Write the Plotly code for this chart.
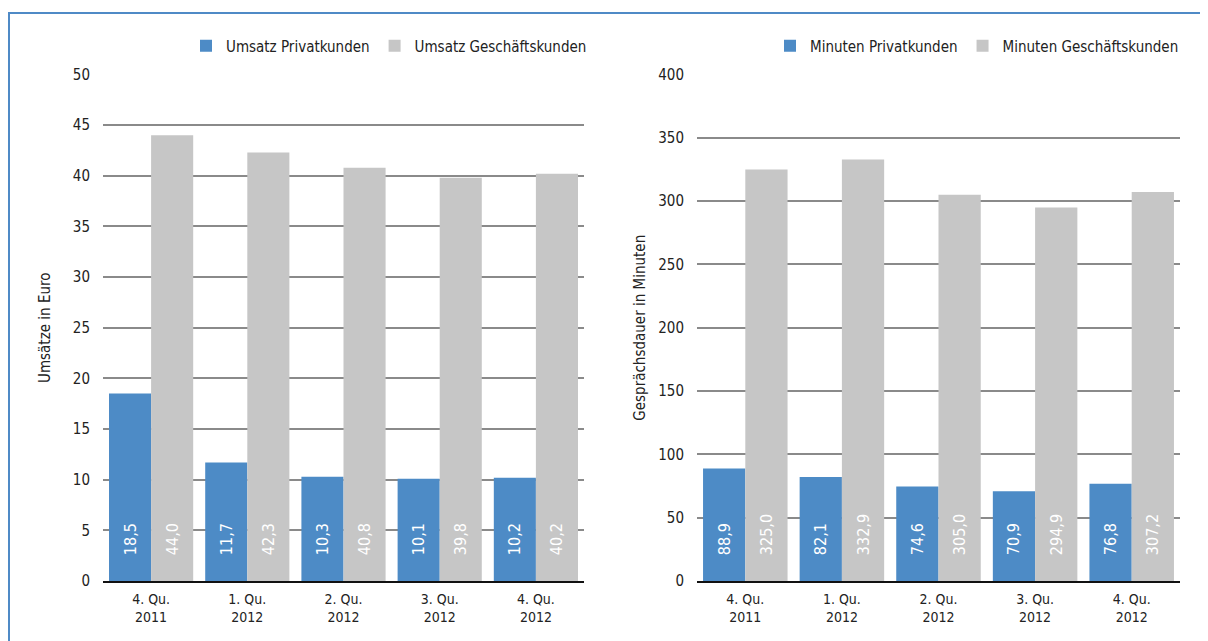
import plotly.graph_objects as go

categories = ["4. Qu.<br>2011", "1. Qu.<br>2012", "2. Qu.<br>2012", "3. Qu.<br>2012", "4. Qu.<br>2012"]
umsatz_privat = [18.5, 11.7, 10.3, 10.1, 10.2]
umsatz_geschaeft = [44.0, 42.3, 40.8, 39.8, 40.2]
minuten_privat = [88.9, 82.1, 74.6, 70.9, 76.8]
minuten_geschaeft = [325.0, 332.9, 305.0, 294.9, 307.2]
left_ticks = [0, 5, 10, 15, 20, 25, 30, 35, 40, 45, 50]
right_ticks = [0, 50, 100, 150, 200, 250, 300, 350, 400]

BLUE = "#4d8bc6"
GRAY = "#c6c6c6"
FONT = "Liberation Sans Narrow, DejaVu Sans Condensed, Arial Narrow, sans-serif"
W, H = 1208, 641

fig = go.Figure()

def add_bar(x, y, name, color, xa, ya, legend):
    fig.add_trace(go.Bar(
        x=x, y=y, name=name, marker=dict(color=color, line=dict(width=0)),
        xaxis=xa, yaxis=ya, legend=legend,
        texttemplate="\u00a0\u00a0\u00a0\u00a0\u00a0%{y:.1f}", textposition="inside",
        insidetextanchor="start",
        textangle=-90, textfont=dict(color="white", size=16, family=FONT),
        cliponaxis=False,
    ))

add_bar(categories, umsatz_privat, "Umsatz Privatkunden", BLUE, "x", "y", "legend")
add_bar(categories, umsatz_geschaeft, "Umsatz Geschäftskunden", GRAY, "x", "y", "legend")
add_bar(categories, minuten_privat, "Minuten Privatkunden", BLUE, "x2", "y2", "legend2")
add_bar(categories, minuten_geschaeft, "Minuten Geschäftskunden", GRAY, "x2", "y2", "legend2")

ydom = [1 - 573 / H, 1 - 66.5 / H]
xcommon = dict(showgrid=False, showline=True, linecolor="#111", linewidth=1.5,
               ticks="", tickfont=dict(size=14, color="#222", family=FONT), zeroline=False,
               automargin=False, ticklabelstandoff=4)
ycommon = dict(showgrid=True, gridcolor="#8a8a8a", gridwidth=1.5, zeroline=False,
               showline=False, ticks="", ticklabelstandoff=12, automargin=False,
               tickfont=dict(size=15, color="#222", family=FONT))

leg = dict(orientation="h", xanchor="right", yanchor="middle",
           font=dict(size=15, color="#222", family=FONT), bgcolor="rgba(0,0,0,0)",
           itemwidth=30, traceorder="normal")

fig.update_layout(
    width=W, height=H, margin=dict(l=0, r=0, t=0, b=0, pad=0, autoexpand=False),
    paper_bgcolor="white", plot_bgcolor="white",
    separators=",.", barmode="group", bargap=0.125, bargroupgap=0,
    font=dict(family=FONT, color="#222"),
    xaxis=dict(domain=[95 / W, 576 / W], anchor="y", **xcommon),
    yaxis=dict(domain=ydom, anchor="x", range=[0, 50], tickvals=left_ticks,
               title=dict(text="Umsätze in Euro", font=dict(size=15, family=FONT), standoff=18),
               **ycommon),
    xaxis2=dict(domain=[689 / W, 1172 / W], anchor="y2", **xcommon),
    yaxis2=dict(domain=ydom, anchor="x2", range=[0, 400], tickvals=right_ticks,
                title=dict(text="Gesprächsdauer in Minuten", font=dict(size=15, family=FONT), standoff=8),
                **ycommon),
    legend=dict(x=584 / W, y=1 - 38 / H, **leg),
    legend2=dict(x=1176 / W, y=1 - 38 / H, **leg),
    shapes=[dict(type="path", xref="paper", yref="paper",
                 path=f"M {1 / W} -0.1 L {1 / W} {1 - 5 / H} L 1.1 {1 - 5 / H}",
                 line=dict(color="#4f8ac6", width=2))],
)

fig.write_html("out.html")
